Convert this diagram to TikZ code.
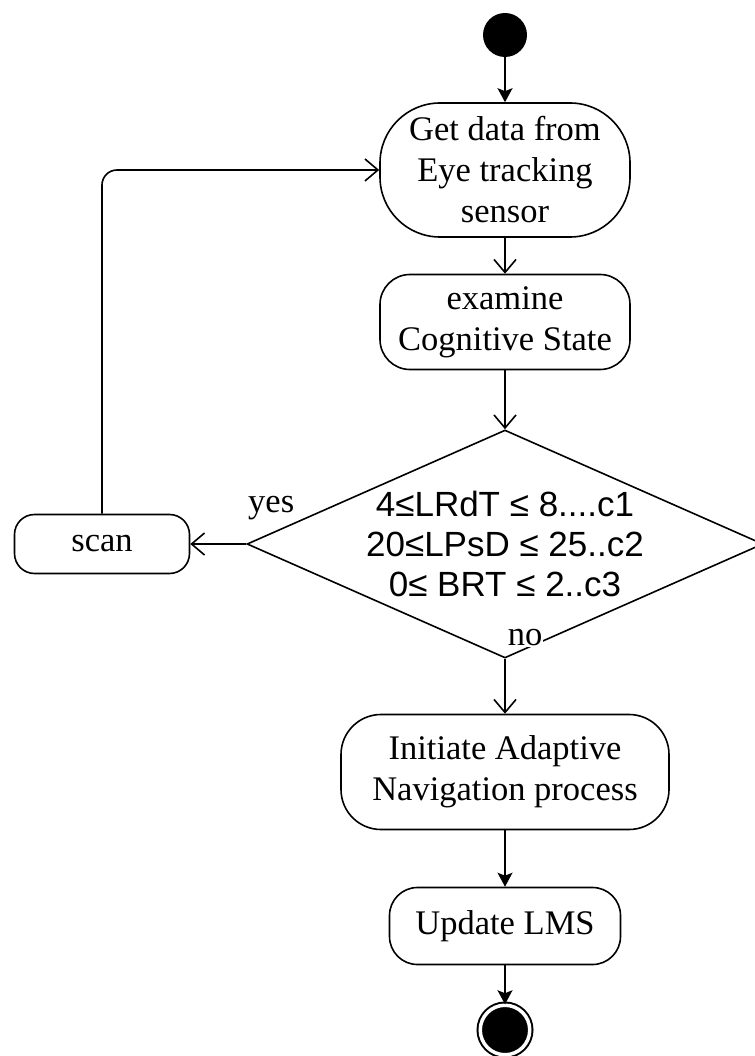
\documentclass[tikz,border=0pt]{standalone}
\usepackage{fontspec}
\setmainfont{Liberation Serif}
\setsansfont{Liberation Sans}
\usetikzlibrary{shapes,arrows,arrows.meta}
\newcommand{\bigtxt}[0]{\fontsize{34.5pt}{41pt}\selectfont}
\newcommand{\sanstxt}[0]{\fontsize{35pt}{40pt}\selectfont}
\tikzstyle{startnode} = [circle, fill=black, minimum size=44pt, inner sep=0pt]
\tikzstyle{stopnode} = [circle, draw, fill=black, double=white, double distance=3.5pt, line width=2pt, minimum size=49.5pt, inner sep=0pt]
\tikzstyle{block} = [rectangle, draw, line width=1.6pt, rounded corners=28pt, align=center, inner sep=0pt, font=\bigtxt]
\tikzstyle{decision} = [diamond, draw, line width=1.6pt, minimum width=516pt, minimum height=228pt, inner sep=0pt]
\tikzstyle{cond} = [align=center, font=\sffamily\sanstxt]
\tikzstyle{lbl} = [fill=white, inner sep=1pt, font=\bigtxt]
\tikzstyle{line} = [draw, line width=1.6pt, -{Stealth[length=14pt,width=15pt,inset=3pt]}]
\tikzstyle{openline} = [draw, line width=1.6pt, -{Straight Barb[length=13pt,width=22pt]}]

\begin{document}
\begin{tikzpicture}
\useasboundingbox (0,0) rectangle (754pt,-1056pt);

\node [startnode] (start) at (505pt,-35pt) {};
\node [block, below of=start, node distance=135pt, minimum width=250pt, minimum height=134pt, rounded corners=60pt] (getdata) {Get data from\\Eye tracking\\sensor};
\node [block, below of=getdata, node distance=152pt, minimum width=250pt, minimum height=95pt, rounded corners=30pt] (examine) {examine\\Cognitive State};
\node [decision, below of=examine, node distance=222pt] (decide) {};
\node [cond] (condtext) at (decide) {4≤LRdT ≤ 8....c1\\20≤LPsD ≤ 25..c2\\0≤ BRT ≤ 2..c3};

%side branch
\node [block, left of=decide, node distance=403pt, minimum width=175pt, minimum height=59pt, rounded corners=20pt] (scan) {scan};

\node [block, below of=decide, node distance=228pt, minimum width=328pt, minimum height=115pt, rounded corners=40pt] (initiate) {Initiate Adaptive\\Navigation process};
\node [block, below of=initiate, node distance=154pt, minimum width=231pt, minimum height=77pt] (update) {Update LMS};
\node [stopnode, below of=update, node distance=104pt] (stop) {};

% arrows
\path [line] (start) -- (getdata);
\path [openline] (getdata) -- (examine);
\path [openline] (examine) -- (decide);
\path [openline] (decide.west) -- (scan.east);
\path [openline, rounded corners=15pt] (scan.north) |- (getdata.west);
\path [openline] (decide.south) -- (initiate);
\path [line] (initiate) -- (update);
\path [line] (update) -- (stop);

% edge labels
\node [lbl] (yes) at ([shift={(25pt,36pt)}]decide.west) {yes};
\node [lbl] (no) at ([shift={(20pt,21pt)}]decide.south) {no};

\end{tikzpicture}
\end{document}
